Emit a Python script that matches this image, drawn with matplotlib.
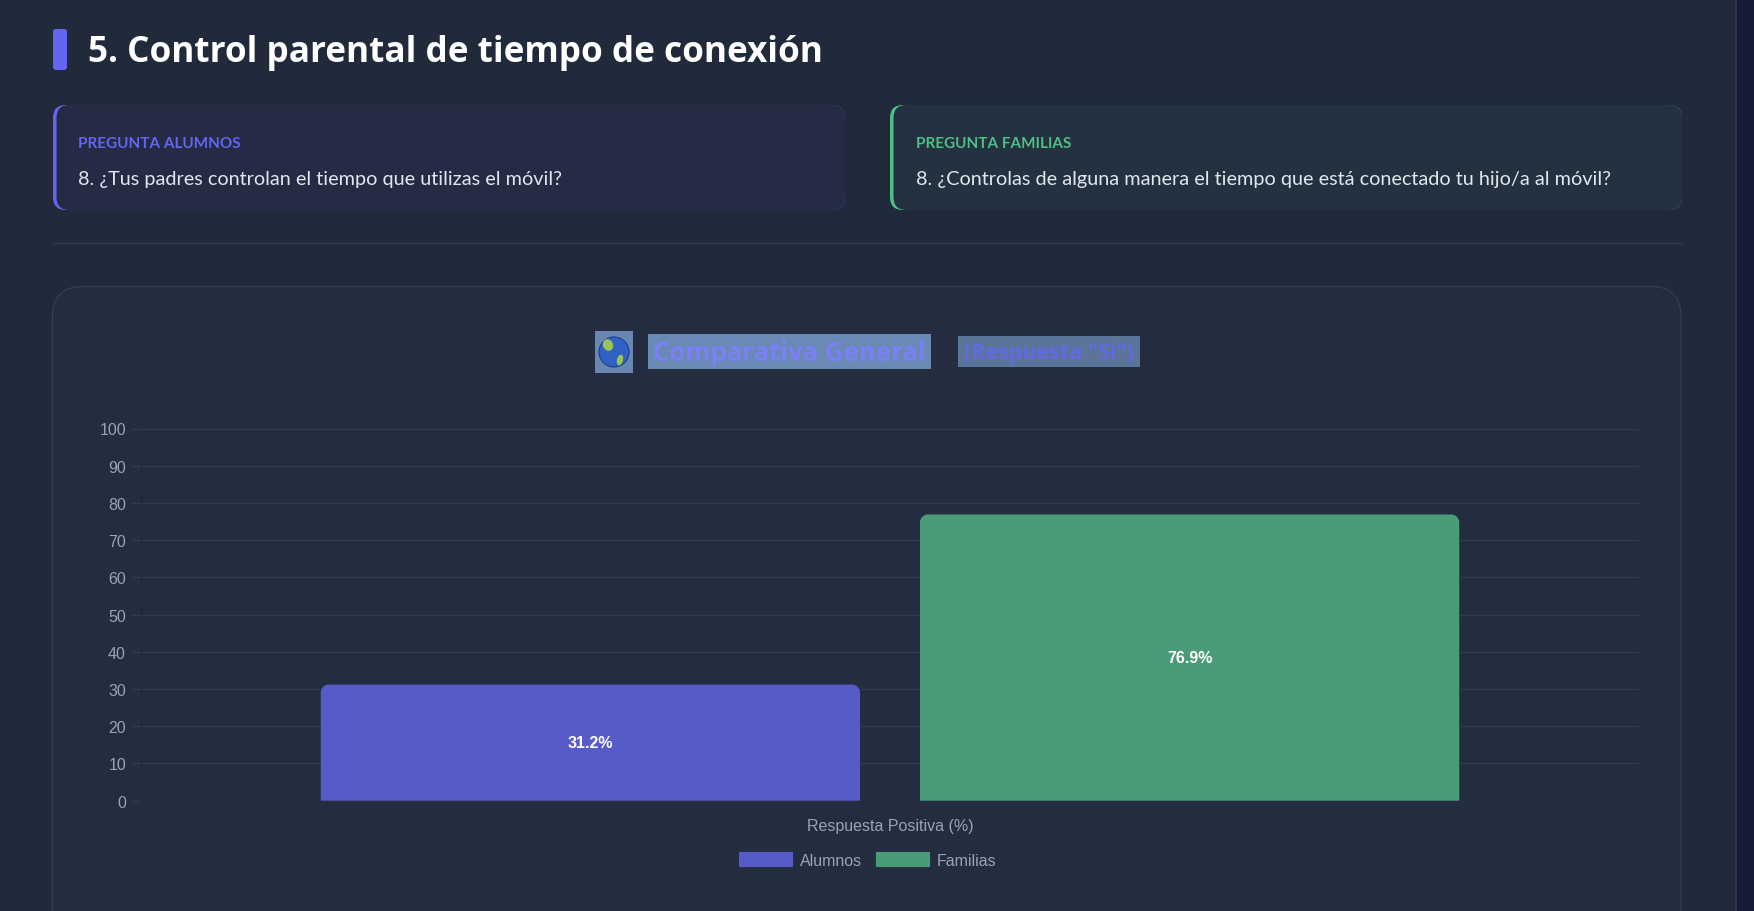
"""Comparativa general: control parental del tiempo de conexion."""

import matplotlib

matplotlib.use("Agg")
import matplotlib.pyplot as plt  # noqa: E402
from matplotlib.patches import Circle, Ellipse, FancyBboxPatch, Patch, PathPatch, Rectangle  # noqa: E402
from matplotlib.path import Path  # noqa: E402

# ---- data -------------------------------------------------------------
GROUPS = ["Alumnos", "Familias"]
VALUES = [31.2, 76.9]
CATEGORY = "Respuesta Positiva (%)"
Y_TICKS = [0, 10, 20, 30, 40, 50, 60, 70, 80, 90, 100]

SECTION_TITLE = "5. Control parental de tiempo de conexión"
CARD_LABELS = ["PREGUNTA ALUMNOS", "PREGUNTA FAMILIAS"]
CARD_QUESTIONS = [
    "8. ¿Tus padres controlan el tiempo que utilizas el móvil?",
    "8. ¿Controlas de alguna manera el tiempo que está conectado tu hijo/a al móvil?",
]
CHART_TITLE = "Comparativa General"
CHART_SUBTITLE = '(Respuesta "Sí")'

# ---- style ------------------------------------------------------------
PAGE_BG = "#161a37"
OUTER_BG = "#212a3b"
CHART_BG = "#242d3f"
GRID = "#323c4e"
TICK_TXT = "#9aa3b2"
BAR_COLORS = ["#575bc8", "#4a9b78"]
ACCENTS = ["#6366f1", "#4fbf85"]
CARD_BG = ["#252b45", "#243140"]
HEAD_FONT = "Lato"
TITLE_FONT = "Open Sans"
CHART_FONT = "Liberation Sans"

W, H = 1754, 912
fig = plt.figure(figsize=(W / 100, H / 100), dpi=100, facecolor=PAGE_BG)

# page layer in pixel coordinates (y grows downward)
bg = fig.add_axes([0, 0, 1, 1], zorder=0)
bg.set_xlim(0, W)
bg.set_ylim(H, 0)
bg.axis("off")


def rbox(x0, y0, x1, y1, r, fc, ec="none", lw=0, z=1):
    bg.add_patch(FancyBboxPatch((x0 + r, y0 + r), x1 - x0 - 2 * r, y1 - y0 - 2 * r,
                                boxstyle=f"round,pad={r}", fc=fc, ec=ec, lw=lw, zorder=z))


# outer card
rbox(-30, -30, 1736, 960, 26, OUTER_BG, ec="#394256", lw=1.0, z=1)

# section title
rbox(53, 30, 67, 71, 3, ACCENTS[0], z=2)
bg.text(88, 53, SECTION_TITLE, fontsize=25.3, fontweight="bold", color="white",
        family=TITLE_FONT, va="center", ha="left", zorder=3)

# question cards
for i, (x0, x1) in enumerate([(53, 845), (890, 1682)]):
    rbox(x0, 106, x1, 211, 13, ACCENTS[i], z=2)
    rbox(x0 + 3.5, 106, x1, 211, 13, CARD_BG[i], z=2)
    bg.text(x0 + 25.5, 144, CARD_LABELS[i], fontsize=11, fontweight="bold",
            color=ACCENTS[i], family=HEAD_FONT, va="center", zorder=3)
    bg.text(x0 + 25.5, 179, CARD_QUESTIONS[i], fontsize=14.3, color="#e3e6ec",
            family=HEAD_FONT, va="center", zorder=3)

bg.plot([53, 1682], [244, 244], color="#343e50", lw=1.0, zorder=2)

# chart card
rbox(52.5, 287.5, 1681, 945, 30, CHART_BG, ec="#333c50", lw=1.0, z=2)

# chart title (with selection highlight as in the source)
bg.add_patch(Rectangle((595, 332), 38, 42, fc="#6a87b3", zorder=3))
bg.add_patch(Circle((614, 353), 15, fc="#2f62c4", ec="#1d3f8a", lw=0.8, zorder=4))
bg.add_patch(Ellipse((608, 346), 10, 12, angle=-25, fc="#9cc25a", zorder=5))
bg.add_patch(Ellipse((620, 361), 6, 11, angle=15, fc="#9cc25a", zorder=5))
bg.add_patch(Rectangle((648, 335), 283, 35, fc="#6a89b5", zorder=3))
bg.text(789.5, 353.5, CHART_TITLE, fontsize=18.5, fontweight="bold", color="#7b80f5",
        family=TITLE_FONT, ha="center", va="center", zorder=4)
bg.add_patch(Rectangle((958, 337), 182, 31, fc="#5b7499", zorder=3))
bg.text(1049, 353.5, CHART_SUBTITLE, fontsize=15.5, fontweight="bold", color="#6569e0",
        family=TITLE_FONT, ha="center", va="center", zorder=4)

# ---- bar chart ----------------------------------------------------------
left, right, top, bottom = 141, 1639, 429.5, 801.7
ax = fig.add_axes([left / W, 1 - bottom / H, (right - left) / W, (bottom - top) / H], zorder=5)
ax.patch.set_alpha(0)
ax.set_xlim(-0.5, 0.5)
ax.set_ylim(0, 100)

slot = 0.8 / len(GROUPS)
xpos = [-0.4 + slot * (i + 0.5) for i in range(len(GROUPS))]
bars = ax.bar(xpos, VALUES, width=slot * 0.9, color=BAR_COLORS, zorder=3)

# round the top corners of each bar (radius in pixels)
to_px = ax.transData
to_data = ax.transData.inverted()
r = 8
for b in bars:
    (x0, y0), (x1, y1) = to_px.transform([(b.get_x(), 0), (b.get_x() + b.get_width(), b.get_height())])
    k = 0.5523 * r
    verts = [(x0, y0), (x0, y1 - r), (x0, y1 - r + k), (x0 + r - k, y1), (x0 + r, y1),
             (x1 - r, y1), (x1 - r + k, y1), (x1, y1 - r + k), (x1, y1 - r), (x1, y0), (x0, y0)]
    codes = [Path.MOVETO, Path.LINETO, Path.CURVE4, Path.CURVE4, Path.CURVE4,
             Path.LINETO, Path.CURVE4, Path.CURVE4, Path.CURVE4, Path.LINETO, Path.CLOSEPOLY]
    path = Path(to_data.transform(verts), codes)
    ax.add_patch(PathPatch(path, fc=b.get_facecolor(), ec="none", zorder=3))
    b.set_visible(False)
    ax.text(b.get_x() + b.get_width() / 2, b.get_height() / 2, f"{b.get_height():.1f}%",
            ha="center", va="center", color="white", fontsize=11.5, fontweight="bold",
            family=CHART_FONT, zorder=4)

ax.set_yticks(Y_TICKS)
ax.yaxis.grid(True, color=GRID, lw=0.9, zorder=0)
ax.set_axisbelow(True)
ax.tick_params(axis="y", length=7.2, width=0.9, color=GRID, pad=3.6, labelsize=11.5,
               labelcolor=TICK_TXT)
ax.set_xticks([0])
ax.set_xticklabels([CATEGORY])
ax.tick_params(axis="x", length=0, pad=12.5, labelsize=11.5, labelcolor=TICK_TXT)
for lbl in ax.get_xticklabels() + ax.get_yticklabels():
    lbl.set_family(CHART_FONT)
for side in ("top", "right", "bottom"):
    ax.spines[side].set_visible(False)
ax.spines["left"].set_color("#20283a")
ax.spines["left"].set_linewidth(0.9)

handles = [Patch(fc=c, ec=c, lw=0.8, label=g) for g, c in zip(GROUPS, BAR_COLORS)]
leg = fig.legend(handles=handles, loc="center", bbox_to_anchor=(868 / W, 1 - 861 / H),
                 ncol=2, frameon=False, handlelength=3.3, handleheight=1.0,
                 handletextpad=0.5, columnspacing=0.9,
                 prop={"family": CHART_FONT, "size": 11.5})
for t in leg.get_texts():
    t.set_color(TICK_TXT)

fig.savefig("out.png", dpi=100, facecolor=PAGE_BG)
